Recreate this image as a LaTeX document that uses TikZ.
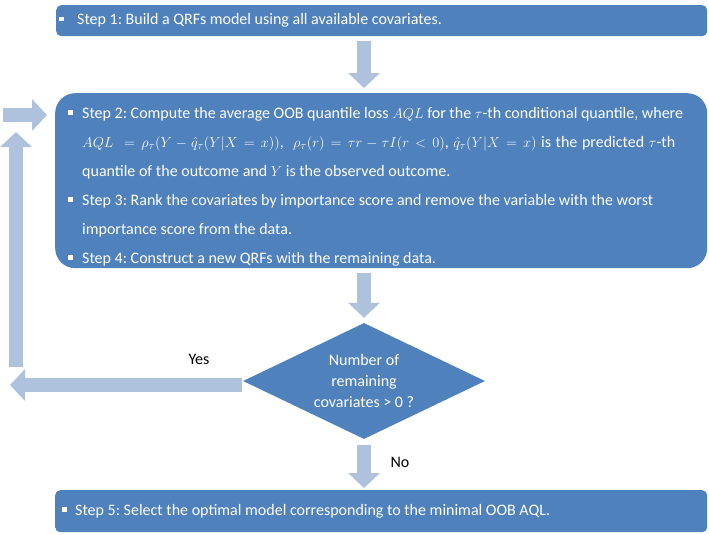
\documentclass[tikz,border=0pt]{standalone}
\usepackage{fontspec}
\setmainfont{Carlito}
\usetikzlibrary{shapes.geometric,arrows.meta,calc}
\definecolor{boxblue}{RGB}{79,129,189}
\definecolor{arrowblue}{RGB}{174,194,222}
\newcommand\bsq{\rule[3.5pt]{4.5pt}{4.5pt}}
\newcommand\qmath[1]{{\fontsize{15.5}{29}\selectfont$#1$}}
\frenchspacing
\begin{document}
\begin{tikzpicture}[x=1pt,y=-1pt,
  box/.style={fill=boxblue, text=white, inner ysep=0pt, anchor=north west, font=\fontsize{16}{19}\selectfont},
  fat/.style={draw=arrowblue, line width=14pt, -{Triangle[width=31pt,length=15pt]}},
  lab/.style={text=black, font=\fontsize{16}{19}\selectfont}]
\useasboundingbox (0,0) rectangle (709,535);
% boxes
\node[box, rounded corners=5pt, minimum width=651pt, minimum height=31pt, inner xsep=3pt] (s1) at (56,5)
  {\makebox[645pt][l]{\makebox[18pt][l]{\bsq}Step 1: Build a QRFs model using all available covariates.}};
\node[box, rounded corners=20pt, inner xsep=13pt] (s2) at (55,93)
  {\parbox[t][175pt][t]{626pt}{\fontsize{16}{29}\selectfont\raggedright\frenchspacing
   \hangindent=14pt\hangafter=1\noindent\rule{0pt}{25pt}\makebox[14pt][l]{\bsq}Step 2: Compute the average OOB quantile loss \qmath{AQL} for the \qmath{\tau}-th conditional quantile, where\newline
   \makebox[593pt][s]{\qmath{AQL\ =\rho_\tau(Y-\hat q_\tau(Y|X=x))},\ \ \qmath{\rho_\tau(r)=\tau r-\tau I(r<0)}, \qmath{\hat q_\tau(Y|X=x)} is the predicted \qmath{\tau}-th}\newline
   quantile of the outcome and \qmath{Y} is the observed outcome.\par
   \hangindent=14pt\hangafter=1\noindent\makebox[14pt][l]{\bsq}Step 3: Rank the covariates by importance score and remove the variable with the worst\newline
   importance score from the data.\par
   \hangindent=14pt\hangafter=1\noindent\makebox[14pt][l]{\bsq}Step 4: Construct a new QRFs with the remaining data.\par}};
\node[box, rounded corners=5pt, minimum height=42pt, inner xsep=7pt] (s5) at (55,490)
  {\makebox[638pt][l]{\makebox[13pt][l]{\bsq}Step 5: Select the optimal model corresponding to the minimal OOB AQL.}};
\node[diamond, fill=boxblue, text=white, minimum width=242pt, minimum height=116pt, inner sep=0pt, shape aspect=2.1, align=center, font=\fontsize{16}{21}\selectfont] (dia) at (364,381)
  {Number of\\remaining\\covariates > 0 ?};
% free ends
\coordinate (yesend) at (10,385);
\coordinate (upstart) at (16,367);
\coordinate (upend) at (16,132);
\coordinate (loopin) at (3,115);
% arrows
\draw[fat] ($(s1.south -| dia.north)+(0,5)$) -- ($(s2.north -| dia.north)+(0,-5)$);
\draw[fat] ($(s2.south -| dia.north)+(0,5)$) -- ($(dia.north)+(0,-5)$);
\draw[fat] ($(dia.south)+(0,6)$) -- ($(s5.north -| dia.south)+(0,-2)$);
\draw[fat] ($(dia.west |- yesend)+(-1,0)$) -- (yesend);
\draw[fat] (upstart) -- (upend);
\draw[fat] (loopin) -- ($(loopin -| s2.west)+(-8,0)$);
% labels
\node[lab] (yes) at (199,359) {Yes};
\node[lab] (no) at (400,462) {No};
\end{tikzpicture}
\end{document}
